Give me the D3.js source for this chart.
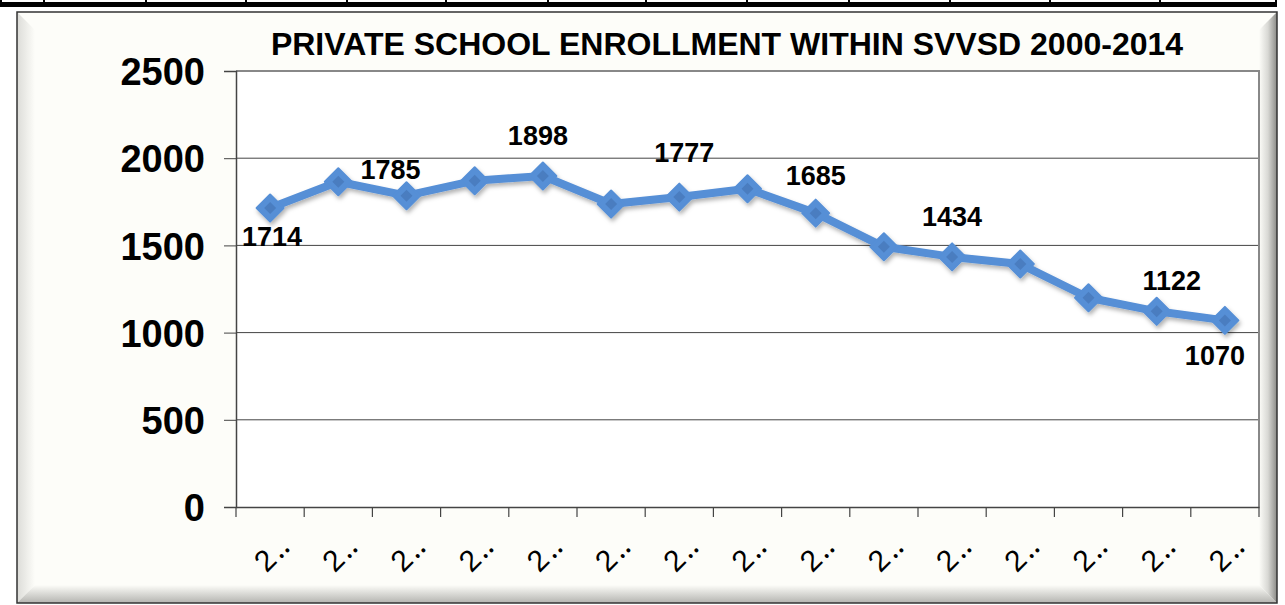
<!DOCTYPE html>
<html><head><meta charset="utf-8">
<script src="https://cdn.jsdelivr.net/npm/d3@7"></script>
<style>html,body{margin:0;padding:0;background:#fff;}svg{display:block;}</style>
</head><body><svg id="c" width="1285" height="605"></svg>
<script>
const title = "PRIVATE SCHOOL ENROLLMENT WITHIN SVVSD 2000-2014";
const years = ["2000","2001","2002","2003","2004","2005","2006","2007","2008","2009","2010","2011","2012","2013","2014"];
const xLabels = ["2‥","2‥","2‥","2‥","2‥","2‥","2‥","2‥","2‥","2‥","2‥","2‥","2‥","2‥","2‥"];
const enrollment = [1714,1865,1785,1871,1898,1737,1777,1825,1685,1492,1434,1393,1200,1122,1070];
const yTicks = [0,500,1000,1500,2000,2500];
const labeledIdx = [0,2,4,6,8,10,13,14];

const svg = d3.select("#c");
const plot = {l:236, r:1259, t:71, b:507};

const defs = svg.append("defs");
const gl = defs.append("linearGradient").attr("id","gl").attr("x1",0).attr("x2",1);
gl.append("stop").attr("offset",0).attr("stop-color","#dcdcd8");
gl.append("stop").attr("offset",1).attr("stop-color","#fdfdf9");
const gr = defs.append("linearGradient").attr("id","gr").attr("x1",0).attr("x2",1);
gr.append("stop").attr("offset",0).attr("stop-color","#fdfdf9");
gr.append("stop").attr("offset",0.5).attr("stop-color","#d8d8d4");
gr.append("stop").attr("offset",1).attr("stop-color","#8a8a86");
const gb = defs.append("linearGradient").attr("id","gb").attr("x1",0).attr("x2",0).attr("y1",0).attr("y2",1);
gb.append("stop").attr("offset",0).attr("stop-color","#fdfdf9");
gb.append("stop").attr("offset",1).attr("stop-color","#b4b4b0");
const sh = defs.append("filter").attr("id","sh").attr("x","-10%").attr("y","-10%").attr("width","120%").attr("height","130%");
sh.append("feDropShadow").attr("dx",1.5).attr("dy",3).attr("stdDeviation",2).attr("flood-color","#000").attr("flood-opacity",0.3);

// top table strip
svg.append("rect").attr("x",0).attr("y",2).attr("width",1277).attr("height",5).attr("fill","#000");
[0,43,145,245,346,445,547,645,746,848,949,1049,1159,1275].forEach(x=>{
  svg.append("rect").attr("x",x).attr("y",0).attr("width",2).attr("height",3).attr("fill","#000");
});

// frame
const fx=17, fy=12, fw=1260, fh=591;
svg.append("rect").attr("x",fx).attr("y",fy).attr("width",fw).attr("height",fh).attr("fill","#fdfdf9");
svg.append("polygon").attr("points",`${fx},${fy} ${fx+18},${fy+18} ${fx+18},${fy+fh-18} ${fx},${fy+fh}`).attr("fill","url(#gl)");
svg.append("polygon").attr("points",`${fx},${fy+fh} ${fx+18},${fy+fh-18} ${fx+fw-18},${fy+fh-18} ${fx+fw},${fy+fh}`).attr("fill","url(#gb)");
svg.append("polygon").attr("points",`${fx+fw},${fy} ${fx+fw-18},${fy+18} ${fx+fw-18},${fy+fh-18} ${fx+fw},${fy+fh}`).attr("fill","url(#gr)");
svg.append("rect").attr("x",fx).attr("y",fy).attr("width",fw).attr("height",fh).attr("fill","none").attr("stroke","#333").attr("stroke-width",1.5);

// title
svg.append("text").attr("x",727).attr("y",55).attr("text-anchor","middle")
  .attr("font-family","Liberation Sans, Arial, sans-serif").attr("font-weight","bold").attr("font-size",32)
  .attr("fill","#000").text(title);

// scales
const x = d3.scaleBand().domain(years).range([plot.l, plot.r]).padding(0);
const y = d3.scaleLinear().domain([0,2500]).range([plot.b, plot.t]);

// plot area
svg.append("rect").attr("x",plot.l).attr("y",plot.t).attr("width",plot.r-plot.l).attr("height",plot.b-plot.t).attr("fill","#fff");
svg.append("g").selectAll("line").data(yTicks.filter(d=>d>0&&d<2500)).join("line")
  .attr("x1",plot.l).attr("x2",plot.r).attr("y1",d=>y(d)).attr("y2",d=>y(d)).attr("stroke","#444").attr("stroke-width",1);
svg.append("path").attr("d",`M${plot.l},${plot.t}H${plot.r}V${plot.b}`).attr("fill","none").attr("stroke","#888").attr("stroke-width",2);

// y axis
const yAxis = svg.append("g").attr("transform",`translate(${plot.l},0)`)
  .call(d3.axisLeft(y).tickValues(yTicks).tickSize(12).tickPadding(19).tickFormat(d3.format("d")));
yAxis.select(".domain").attr("stroke","#444").attr("stroke-width",1.5);
yAxis.selectAll(".tick line").attr("stroke","#444");
yAxis.selectAll(".tick text").attr("font-family","Liberation Sans, Arial, sans-serif").attr("font-weight","bold").attr("font-size",38).attr("fill","#000").attr("dy","0.36em");

// x axis
const xAxis = svg.append("g").attr("transform",`translate(0,${plot.b})`)
  .call(d3.axisBottom(x).tickSize(0).tickFormat(""));
xAxis.select(".domain").attr("stroke","#444").attr("stroke-width",1.5);
xAxis.selectAll(".tick").remove();
const edges = years.map(d=>x(d)).concat([plot.r]);
xAxis.selectAll("line.tk").data(edges).join("line").attr("class","tk")
  .attr("x1",d=>d).attr("x2",d=>d).attr("y1",0).attr("y2",10).attr("stroke","#444").attr("stroke-width",1.2);
svg.append("g").selectAll("text").data(years).join("text")
  .attr("transform",(d)=>`translate(${x(d)+x.bandwidth()/2+2},553) rotate(-45)`)
  .attr("text-anchor","middle").attr("dy","0.35em")
  .attr("font-family","Liberation Sans, Arial, sans-serif").attr("font-size",30).attr("fill","#000")
  .attr("letter-spacing",2)
  .text((d,i)=>xLabels[i]);

// line
const cx = i => x(years[i]) + x.bandwidth()/2;
const g = svg.append("g").attr("filter","url(#sh)");
g.append("path").datum(enrollment)
  .attr("d", d3.line().x((d,i)=>cx(i)).y(d=>y(d)))
  .attr("fill","none").attr("stroke","#568fd6").attr("stroke-width",8).attr("stroke-linejoin","round");
const diamond = r => `M0,${-r}L${r},0L0,${r}L${-r},0Z`;
g.selectAll("path.m").data(enrollment).join("path").attr("class","m")
  .attr("transform",(d,i)=>`translate(${cx(i)},${y(d)})`)
  .attr("d",diamond(13.5)).attr("fill","#568fd6").attr("stroke","#568fd6").attr("stroke-width",2).attr("stroke-linejoin","round");
svg.selectAll("path.mi").data(enrollment).join("path").attr("class","mi")
  .attr("transform",(d,i)=>`translate(${cx(i)},${y(d)})`)
  .attr("d",diamond(6)).attr("fill","#4a7dc0");

// data labels
const labelOffset = {0:[2,38],2:[-16,-17],4:[-5,-31],6:[5,-35],8:[0,-28],10:[0,-31],13:[15,-21],14:[-10,45]};
svg.append("g").selectAll("text").data(labeledIdx).join("text")
  .attr("x",i=>cx(i)+labelOffset[i][0]).attr("y",i=>y(enrollment[i])+labelOffset[i][1])
  .attr("text-anchor","middle")
  .attr("font-family","Liberation Sans, Arial, sans-serif").attr("font-weight","bold").attr("font-size",27).attr("fill","#000")
  .text(i=>enrollment[i]);
</script></body></html>
